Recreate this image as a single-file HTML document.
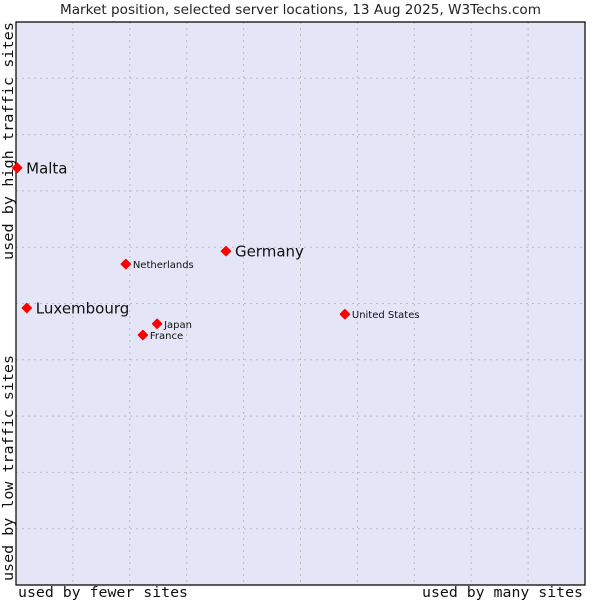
<!DOCTYPE html>
<html><head><meta charset="utf-8"><style>
body{margin:0;background:#fff;}
svg{display:block;}
</style></head><body>
<svg id="chart" width="600" height="600" xmlns="http://www.w3.org/2000/svg">
<text x="60" y="14" textLength="481" lengthAdjust="spacingAndGlyphs" font-family="DejaVu Sans, sans-serif" font-size="13.5" fill="#222">Market position, selected server locations, 13 Aug 2025, W3Techs.com</text>
<rect x="16" y="22" width="569" height="563" fill="#e4e5f7"/>
<g id="grid"></g>
<path d="M16 22 H585 V585 H16 Z" fill="none" stroke="#000" stroke-width="1.2"/>
<text x="18" y="597" textLength="170" lengthAdjust="spacingAndGlyphs" font-family="DejaVu Sans Mono, monospace" font-size="14.5" fill="#111">used by fewer sites</text>
<text x="422" y="597" textLength="161" lengthAdjust="spacingAndGlyphs" font-family="DejaVu Sans Mono, monospace" font-size="14.5" fill="#111">used by many sites</text>
<text transform="translate(13,581) rotate(-90)" textLength="226" lengthAdjust="spacingAndGlyphs" font-family="DejaVu Sans Mono, monospace" font-size="14.5" fill="#111">used by low traffic sites</text>
<text transform="translate(13,260) rotate(-90)" textLength="238" lengthAdjust="spacingAndGlyphs" font-family="DejaVu Sans Mono, monospace" font-size="14.5" fill="#111">used by high traffic sites</text>
<g id="points"></g>
</svg>
<script>
const names = ["Malta","Luxembourg","Netherlands","Germany","Japan","France","United States"];
const xValues = [0.2,1.9,19.3,36.9,24.8,22.3,57.8];
const yValues = [74.1,49.2,57.0,59.3,46.4,44.4,48.1];
const bigLabel = [true,true,false,true,false,false,false];
const NS="http://www.w3.org/2000/svg";
const X0=16,X1=585,Y0=585,Y1=22;
function xs(v){return X0+v/100*(X1-X0);}
function ys(v){return Y0-v/100*(Y0-Y1);}
const grid=document.getElementById('grid');
for(let i=1;i<10;i++){
  const v=document.createElementNS(NS,'line');
  v.setAttribute('x1',xs(i*10));v.setAttribute('x2',xs(i*10));v.setAttribute('y1',Y1);v.setAttribute('y2',Y0);
  v.setAttribute('stroke','#bbbbbb');v.setAttribute('stroke-dasharray','2,4');
  
  
  grid.appendChild(v);
  const h=document.createElementNS(NS,'line');
  h.setAttribute('y1',ys(i*10));h.setAttribute('y2',ys(i*10));h.setAttribute('x1',X0);h.setAttribute('x2',X1);
  h.setAttribute('stroke','#bbbbbb');h.setAttribute('stroke-dasharray','2,4');
  
  
  grid.appendChild(h);
}
const pts=document.getElementById('points');
names.forEach((n,i)=>{
  const cx=xs(xValues[i]),cy=ys(yValues[i]);
  const d=document.createElementNS(NS,'path');
  d.setAttribute('d',`M${cx-4.5} ${cy} L${cx} ${cy-4.5} L${cx+4.5} ${cy} L${cx} ${cy+4.5} Z`);
  d.setAttribute('fill','#ff0000');
  d.setAttribute('stroke','#ff0000');d.setAttribute('stroke-linejoin','round');d.setAttribute('stroke-width','1.5');
  
  
  pts.appendChild(d);
  const t=document.createElementNS(NS,'text');
  t.setAttribute('x',cx+(bigLabel[i]?9:7));
  t.setAttribute('y',cy+(bigLabel[i]?5.5:4));
  t.setAttribute('font-family','DejaVu Sans, sans-serif');
  t.setAttribute('font-size',bigLabel[i]?'15':'10');
  t.setAttribute('fill','#111');
  t.textContent=n;
  
  
  pts.appendChild(t);
});
</script>
</body></html>
